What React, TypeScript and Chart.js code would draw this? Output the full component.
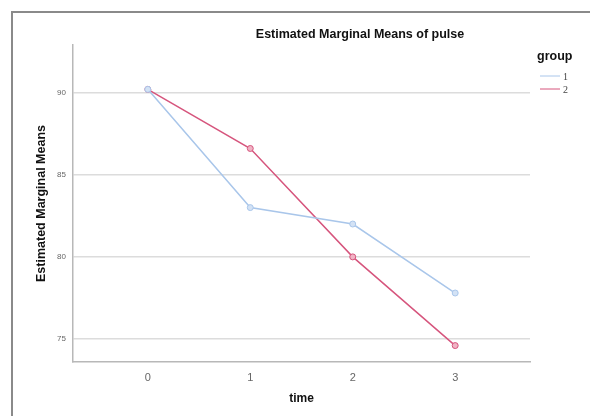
import React, { useEffect, useRef } from "react";
import { Chart, registerables } from "chart.js";

Chart.register(...registerables);

const times = [0, 1, 2, 3];
const group1 = [90.2, 83.0, 82.0, 77.8];
const group2 = [90.2, 86.6, 80.0, 74.6];
const yTicks = [75, 80, 85, 90];
const groupLabels = ["1", "2"];
const titleText = "Estimated Marginal Means of pulse";
const yTitle = "Estimated Marginal Means";
const xTitle = "time";
const legendTitle = "group";

const BLUE = "#a9c6ea";
const RED = "#d6557d";

const decor = {
  id: "decor",
  afterDraw(chart: any) {
    const ctx = chart.ctx;
    ctx.save();
    // frame
    ctx.strokeStyle = "#8a8a8a";
    ctx.lineWidth = 2;
    ctx.beginPath();
    ctx.moveTo(12, 416);
    ctx.lineTo(12, 12);
    ctx.lineTo(590, 12);
    ctx.stroke();
    // title
    ctx.fillStyle = "#111";
    ctx.font = "bold 12.5px Arial, 'Liberation Sans', sans-serif";
    ctx.textAlign = "center";
    ctx.textBaseline = "middle";
    ctx.fillText(titleText, 360, 35);
    // legend
    ctx.textAlign = "left";
    ctx.font = "bold 12.5px Arial, 'Liberation Sans', sans-serif";
    ctx.fillText(legendTitle, 537, 57);
    const colors = [BLUE, RED];
    ctx.font = "10px 'Liberation Serif', serif";
    groupLabels.forEach((g, i) => {
      const y = 76 + i * 13;
      ctx.strokeStyle = colors[i];
      ctx.lineWidth = 1;
      ctx.beginPath();
      ctx.moveTo(540, y);
      ctx.lineTo(560, y);
      ctx.stroke();
      ctx.fillStyle = "#444";
      ctx.fillText(g, 563, y + 1);
    });
    ctx.restore();
  },
};

export default function App() {
  const ref = useRef<HTMLCanvasElement>(null);
  useEffect(() => {
    if (!ref.current) return;
    const chart = new Chart(ref.current, {
      type: "line",
      data: {
        datasets: [
          {
            label: groupLabels[0],
            data: times.map((t, i) => ({ x: t, y: group1[i] })),
            borderColor: BLUE,
            backgroundColor: "#c8dbf2",
            borderWidth: 1.5,
            pointRadius: 3,
            pointBorderWidth: 1,
            pointBorderColor: BLUE,
            pointBackgroundColor: "#d3e2f5",
          },
          {
            label: groupLabels[1],
            data: times.map((t, i) => ({ x: t, y: group2[i] })),
            borderColor: RED,
            backgroundColor: "#eda0b6",
            borderWidth: 1.5,
            pointRadius: 3,
            pointBorderWidth: 1,
            pointBorderColor: RED,
            pointBackgroundColor: "#f0b3c4",
          },
        ],
      },
      options: {
        responsive: false,
        animation: false,
        layout: { padding: { left: 34, top: 45, right: 60, bottom: 0 } },
        plugins: { legend: { display: false }, title: { display: false }, tooltip: { enabled: false } },
        scales: {
          x: {
            type: "linear",
            min: -0.73,
            max: 3.73,
            afterBuildTicks: (s: any) => {
              s.ticks = times.map((v) => ({ value: v }));
            },
            afterFit: (s: any) => {
              s.height = 54;
            },
            grid: { display: false, drawTicks: false },
            border: { color: "#b8b8b8", width: 1.5 },
            ticks: {
              color: "#666",
              padding: 9,
              font: { size: 11, family: "Arial, 'Liberation Sans', sans-serif" },
              callback: (v: any) => String(v),
            },
            title: {
              display: true,
              text: xTitle,
              color: "#111",
              font: { size: 12, weight: "bold", family: "Arial, 'Liberation Sans', sans-serif" },
              padding: { top: 3, bottom: 10 },
            },
          },
          y: {
            min: 73.6,
            max: 92.9,
            afterBuildTicks: (s: any) => {
              s.ticks = yTicks.map((v) => ({ value: v }));
            },
            afterFit: (s: any) => {
              s.width = 39;
            },
            grid: { color: "#dcdcdc", lineWidth: 1.5, drawTicks: false },
            border: { color: "#b8b8b8", width: 1.5 },
            ticks: {
              color: "#666",
              padding: 7,
              font: { size: 8, family: "Arial, 'Liberation Sans', sans-serif" },
            },
            title: {
              display: true,
              text: yTitle,
              color: "#111",
              font: { size: 12.5, weight: "bold", family: "Arial, 'Liberation Sans', sans-serif" },
              padding: { top: 0, bottom: 0 },
            },
          },
        },
      },
      plugins: [decor],
    } as any);
    return () => chart.destroy();
  }, []);
  return (
    <div style={{ position: "fixed", left: 0, top: 0, width: 590, height: 416, background: "#fff" }}>
      <canvas ref={ref} width={590} height={416} style={{ display: "block" }} />
    </div>
  );
}
